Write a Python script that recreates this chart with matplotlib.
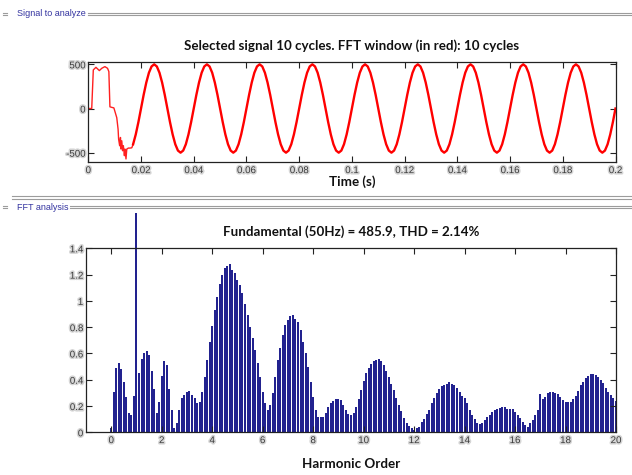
import numpy as np
import matplotlib
matplotlib.use("Agg")
import matplotlib.pyplot as plt
from matplotlib.lines import Line2D
from matplotlib.transforms import Bbox, TransformedBbox
import matplotlib.patheffects as pe

# ---- signal (top panel) ----
# transient at the start
t_start = [0.0, 0.0013, 0.0019, 0.0029, 0.0042, 0.0051, 0.0063, 0.0073, 0.0078,
           0.0082, 0.0090, 0.0097, 0.0108, 0.0113, 0.0115, 0.0119, 0.0122, 0.0124,
           0.0127, 0.0130, 0.0133, 0.0137, 0.0139, 0.0143, 0.0146, 0.0152, 0.0158,
           0.0165]
v_start = [0, 0, 437, 466, 429, 455, 474, 455, 418,
           19, 12, 7, -104, -235, -347, -422, -328, -459,
           -366, -478, -422, -534, -459, -571, -459, -448, -448,
           -445]

# steady part, one sample per ms from t = 0.017 s
steady_t0 = 0.017
steady_dt = 0.001
v_steady = [
    -405, -294, -155,
    0, 155, 294, 405, 476, 500, 476, 405, 294, 155, 0, -155, -294, -405, -476, -500, -476, -405, -294, -155,
    0, 155, 294, 405, 476, 500, 476, 405, 294, 155, 0, -155, -294, -405, -476, -500, -476, -405, -294, -155,
    0, 155, 294, 405, 476, 500, 476, 405, 294, 155, 0, -155, -294, -405, -476, -500, -476, -405, -294, -155,
    0, 155, 294, 405, 476, 500, 476, 405, 294, 155, 0, -155, -294, -405, -476, -500, -476, -405, -294, -155,
    0, 155, 294, 405, 476, 500, 476, 405, 294, 155, 0, -155, -294, -405, -476, -500, -476, -405, -294, -155,
    0, 155, 294, 405, 476, 500, 476, 405, 294, 155, 0, -155, -294, -405, -476, -500, -476, -405, -294, -155,
    0, 155, 294, 405, 476, 500, 476, 405, 294, 155, 0, -155, -294, -405, -476, -500, -476, -405, -294, -155,
    0, 155, 294, 405, 476, 500, 476, 405, 294, 155, 0, -155, -294, -405, -476, -500, -476, -405, -294, -155,
    0, 155, 294, 405, 476, 500, 476, 405, 294, 155, 0, -155, -294, -405, -476, -500, -476, -405, -294, -155,
    0,
]

# ---- FFT (bottom panel), 0.1 harmonic resolution, 0 .. 20 ----
fundamental_pct = 100.0
fft_mag = [
    0.03, 0.31, 0.49, 0.53, 0.48, 0.38, 0.27, 0.15, 0.13, 0.28,          # 0.0 - 0.9
    fundamental_pct,
    0.45, 0.56, 0.60, 0.62, 0.59, 0.47, 0.33, 0.15, 0.23,                # 1.1 - 1.9
    0.43, 0.54, 0.51, 0.33, 0.17, 0.03, 0.07, 0.17, 0.26, 0.285,         # 2.0 - 2.9
    0.31, 0.317, 0.285, 0.26, 0.22, 0.233, 0.31, 0.42, 0.55, 0.69,       # 3.0 - 3.9
    0.81, 0.93, 1.03, 1.13, 1.20, 1.25, 1.265, 1.28, 1.235, 1.21,        # 4.0 - 4.9
    1.16, 1.12, 1.06, 0.98, 0.89, 0.80, 0.715, 0.63, 0.525, 0.42,        # 5.0 - 5.9
    0.31, 0.22, 0.17, 0.21, 0.30, 0.42, 0.55, 0.64, 0.74, 0.815,         # 6.0 - 6.9
    0.855, 0.885, 0.89, 0.865, 0.84, 0.78, 0.69, 0.60, 0.50, 0.385,      # 7.0 - 7.9
    0.27, 0.17, 0.12, 0.115, 0.12, 0.15, 0.19, 0.22, 0.24, 0.25,         # 8.0 - 8.9
    0.25, 0.245, 0.21, 0.17, 0.14, 0.13, 0.15, 0.19, 0.25, 0.32,         # 9.0 - 9.9
    0.39, 0.45, 0.49, 0.52, 0.54, 0.55, 0.555, 0.54, 0.51, 0.47,         # 10.0 - 10.9
    0.42, 0.37, 0.32, 0.26, 0.21, 0.16, 0.11, 0.07, 0.045, 0.03,         # 11.0 - 11.9
    0.015, 0.03, 0.04, 0.08, 0.105, 0.14, 0.17, 0.22, 0.26, 0.30,        # 12.0 - 12.9
    0.33, 0.35, 0.36, 0.37, 0.38, 0.37, 0.36, 0.335, 0.31, 0.28,         # 13.0 - 13.9
    0.26, 0.22, 0.17, 0.13, 0.10, 0.07, 0.063, 0.074, 0.094, 0.114,      # 14.0 - 14.9
    0.13, 0.157, 0.17, 0.18, 0.185, 0.19, 0.195, 0.18, 0.18, 0.175,      # 15.0 - 15.9
    0.157, 0.13, 0.106, 0.08, 0.056, 0.038, 0.068, 0.094, 0.13, 0.17,    # 16.0 - 16.9
    0.29, 0.25, 0.27, 0.30, 0.307, 0.31, 0.30, 0.29, 0.266, 0.246,       # 17.0 - 17.9
    0.23, 0.228, 0.233, 0.25, 0.276, 0.317, 0.36, 0.385, 0.41, 0.43,     # 18.0 - 18.9
    0.44, 0.444, 0.436, 0.42, 0.40, 0.373, 0.335, 0.31, 0.284, 0.26,     # 19.0 - 19.9
    0.24,                                                                # 20.0
]
harmonic_order = np.round(np.arange(len(fft_mag)) * 0.1, 1)

signal_title = 'Selected signal 10 cycles. FFT window (in red): 10 cycles'
fft_title = 'Fundamental (50Hz) = 485.9, THD = 2.14%'

# ---- figure ----
W, H = 632, 475
fig = plt.figure(figsize=(W / 100, H / 100), dpi=100)
fig.patch.set_facecolor('white')

title_font = dict(family=['Lato', 'DejaVu Sans'], fontsize=9.6, fontweight='bold', color='#111111')
tick_font = dict(family=['Liberation Sans', 'DejaVu Sans'], size=7)
halo = [pe.withStroke(linewidth=2.2, foreground='#d6d6d6')]


def px_axes(left, top, right, bottom):
    return fig.add_axes([left / W, 1 - bottom / H, (right - left) / W, (bottom - top) / H])


def style_axes(ax):
    for s in ax.spines.values():
        s.set_color('#222222')
        s.set_linewidth(0.9)
    ax.tick_params(direction='in', length=4, width=0.8, top=True, right=True,
                   colors='#222222', labelcolor='#3a3a3a', pad=2)
    for lab in ax.get_xticklabels() + ax.get_yticklabels():
        lab.set_fontfamily(tick_font['family'])
        lab.set_fontsize(tick_font['size'])
        lab.set_path_effects(halo)


def panel(label, y_px, line_start):
    # GUI group-box header: little dash, blue label, double grey line
    y = 1 - y_px / H
    for dy in (-1.2, 1.2):
        yy = 1 - (y_px + dy) / H
        fig.add_artist(Line2D([3 / W, 7 / W], [yy, yy], transform=fig.transFigure,
                              color='#9c9c9c', lw=0.8))
        fig.add_artist(Line2D([line_start / W, 1.0], [yy, yy], transform=fig.transFigure,
                              color='#9c9c9c', lw=0.8))
    fig.text(17 / W, y, label, ha='left', va='center', fontsize=6.5, color='#3434a0',
             family=['Liberation Sans Narrow', 'Liberation Sans', 'DejaVu Sans'])


panel('Signal to analyze', 14, 88)
panel('FFT analysis', 207, 70)
# bottom edge of first group box
for yy_px in (196, 198.5):
    yy = 1 - yy_px / H
    fig.add_artist(Line2D([12 / W, 1.0], [yy, yy], transform=fig.transFigure,
                          color='#9c9c9c', lw=0.8))

# ---- top axes: the signal ----
ax1 = px_axes(88.3, 62.3, 615.5, 162.3)
t_steady = steady_t0 + steady_dt * np.arange(len(v_steady))
ax1.plot(t_start + [steady_t0], v_start + [v_steady[0]], color='#ff2020', lw=1.0)
ax1.plot(t_steady, v_steady, color='#ff0000', lw=1.7, solid_joinstyle='round')
ax1.set_xlim(0, 0.2)
ax1.set_ylim(-609, 523)
ax1.set_xticks(np.arange(0, 0.201, 0.02))
ax1.set_xticklabels(['0', '0.02', '0.04', '0.06', '0.08', '0.1', '0.12', '0.14', '0.16', '0.18', '0.2'])
ax1.set_yticks([-500, 0, 500])
ax1.set_yticklabels(['-500', '0', '500'])
style_axes(ax1)
ax1.set_title(signal_title, pad=9, **title_font)
ax1.set_xlabel('Time (s)', labelpad=0, **title_font)

# ---- bottom axes: FFT bars ----
ax2 = px_axes(86, 248.3, 616, 432.3)
bars = ax2.bar(harmonic_order, fft_mag, width=0.08, color='#22228f', edgecolor='none',
               linewidth=0)
# the fundamental is drawn past the top of the axes, as in the GUI
clip = TransformedBbox(Bbox([[0, 0], [1, 1.19]]), ax2.transAxes)
fund_bar = bars[int(np.argmax(fft_mag))]
fund_bar.set_clip_box(clip)
ax2.set_xlim(-1, 20)
ax2.set_ylim(0, 1.4)
ax2.set_xticks(np.arange(0, 21, 2))
ax2.set_xticklabels([str(v) for v in range(0, 21, 2)])
ax2.set_yticks(np.arange(0, 1.41, 0.2))
ax2.set_yticklabels(['0', '0.2', '0.4', '0.6', '0.8', '1', '1.2', '1.4'])
style_axes(ax2)
ax2.set_title(fft_title, pad=9, **title_font)
ax2.set_xlabel('Harmonic Order', labelpad=9, **title_font)

fig.savefig('out.png', dpi=100, facecolor='white')
